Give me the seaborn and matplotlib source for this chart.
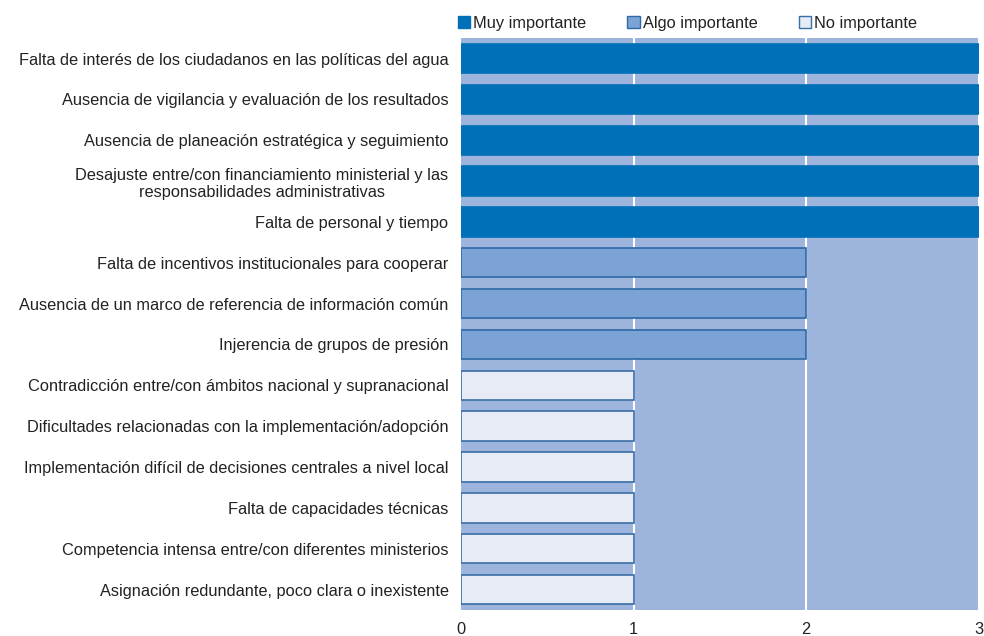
import pandas as pd
import matplotlib.pyplot as plt
import seaborn as sns
from matplotlib.patches import Patch

# Datos
obstaculos = [
    "Falta de interés de los ciudadanos en las políticas del agua",
    "Ausencia de vigilancia y evaluación de los resultados",
    "Ausencia de planeación estratégica y seguimiento",
    "Desajuste entre/con financiamiento ministerial y las\nresponsabilidades administrativas",
    "Falta de personal y tiempo",
    "Falta de incentivos institucionales para cooperar",
    "Ausencia de un marco de referencia de información común",
    "Injerencia de grupos de presión",
    "Contradicción entre/con ámbitos nacional y supranacional",
    "Dificultades relacionadas con la implementación/adopción",
    "Implementación difícil de decisiones centrales a nivel local",
    "Falta de capacidades técnicas",
    "Competencia intensa entre/con diferentes ministerios",
    "Asignación redundante, poco clara o inexistente",
]
puntaje = [3, 3, 3, 3, 3, 2, 2, 2, 1, 1, 1, 1, 1, 1]
niveles = ["Muy importante", "Algo importante", "No importante"]
ticks_x = [0, 1, 2, 3]

colores = {"Muy importante": "#0070b8", "Algo importante": "#7ba3d6", "No importante": "#e7ebf5"}
bordes = {"Muy importante": "#0070b8", "Algo importante": "#2f69a6", "No importante": "#3a6ea8"}
nivel_por_puntaje = {3: "Muy importante", 2: "Algo importante", 1: "No importante"}

df = pd.DataFrame({"obstaculo": obstaculos, "puntaje": puntaje})
df["nivel"] = df["puntaje"].map(nivel_por_puntaje)

sns.set_style("white")
plt.rcParams["font.family"] = ["Liberation Sans", "DejaVu Sans"]

fig = plt.figure(figsize=(9.84, 6.36), dpi=100)
ax = fig.add_axes([0.4685, 0.041, 0.526, 0.899])
ax.set_facecolor("#9db4dc")

sns.barplot(data=df, x="puntaje", y="obstaculo", hue="nivel", hue_order=niveles,
            palette=colores, dodge=False, width=0.72, saturation=1, legend=False, ax=ax)

# bordes según el color de relleno de cada barra
for patch in ax.patches:
    fc = patch.get_facecolor()
    for nivel, c in colores.items():
        if abs(fc[0] - int(c[1:3], 16) / 255) < 0.01 and abs(fc[2] - int(c[5:7], 16) / 255) < 0.01:
            patch.set_edgecolor(bordes[nivel])
            patch.set_linewidth(1.2)
    patch.set_zorder(3)

ax.set_xlim(0, 3)
ax.set_ylim(len(obstaculos) - 0.5, -0.5)
ax.set_xticks(ticks_x)
ax.set_xticklabels([str(t) for t in ticks_x], fontsize=11.8, color="#222222")
ax.tick_params(axis="x", length=0, pad=9)
ax.tick_params(axis="y", length=0, pad=9, labelsize=11.8, labelcolor="#222222")
for t in ax.get_yticklabels():
    t.set_horizontalalignment("right")
    t.set_multialignment("center")
ax.grid(False)
for x in ticks_x[1:]:
    ax.axvline(x, color="white", lw=1.5, zorder=1)
for s in ax.spines.values():
    s.set_visible(False)
ax.set_xlabel("")
ax.set_ylabel("")

handles = [Patch(facecolor=colores[n], edgecolor=bordes[n], label=n) for n in niveles]
fig.legend(handles=handles, loc="upper left", bbox_to_anchor=(0.45, 0.998), ncol=3,
           frameon=False, fontsize=11.8, handlelength=0.75, handleheight=0.75,
           handletextpad=0.2, columnspacing=2.5, labelcolor="#222222")

fig.savefig("out.png", dpi=100)
